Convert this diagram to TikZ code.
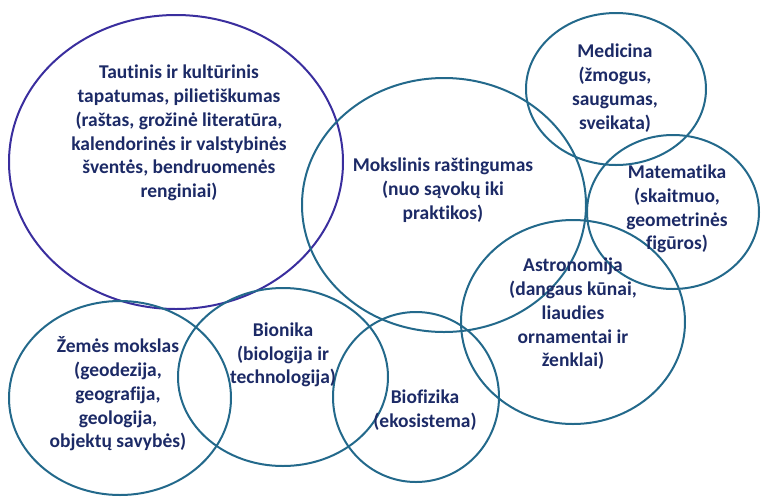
\documentclass[tikz,border=0pt]{standalone}
\usepackage{fontspec}
\setmainfont{Carlito}[Ligatures=NoCommon]
\definecolor{tealline}{HTML}{23698B}
\definecolor{violetline}{HTML}{3A2E9E}
\definecolor{navytext}{HTML}{1C2A66}
\tikzset{
	topic/.style={draw=tealline, line width=2pt},
	label/.style={align=center, text=navytext, font=\bfseries\fontsize{19.5}{23.8}\selectfont, inner sep=0pt}
}
\begin{document}
\begin{tikzpicture}[x=1pt,y=-1pt]
		\useasboundingbox (0,0) rectangle (761,499);
		% centres of the circles
		\coordinate (T) at (176,162);
		\coordinate (M) at (444,205);
		\coordinate (Med) at (616,89);
		\coordinate (Mat) at (673,212);
		\coordinate (A) at (573,322);
		\coordinate (Z) at (120,398);
		\coordinate (Bn) at (283,377);
		\coordinate (Bf) at (416,397);
		\draw [draw=violetline, line width=2pt] (T) ellipse [x radius=167, y radius=147];
		\draw [topic] (M) ellipse [x radius=142, y radius=127];
		\draw [topic] (Med) ellipse [x radius=90, y radius=76];
		\draw [topic] (Mat) ellipse [x radius=86, y radius=77];
		\draw [topic] (A) ellipse [x radius=112, y radius=102];
		\draw [topic] (Z) ellipse [x radius=111, y radius=97];
		\draw [topic] (Bn) ellipse [x radius=105, y radius=89];
		\draw [topic] (Bf) ellipse [x radius=83, y radius=85];
		\node [label] (tautinis) at (179,133) {Tautinis ir kultūrinis\\tapatumas, pilietiškumas\\(raštas, grožinė literatūra,\\kalendorinės ir valstybinės\\šventės, bendruomenės\\renginiai)};
		\node [label] (mokslinis) at (443,190) {Mokslinis raštingumas\\(nuo sąvokų iki\\praktikos)};
		\node [label] (medicina) at (615,88) {Medicina\\(žmogus,\\saugumas,\\sveikata)};
		\node [label] (matematika) at (677,209) {Matematika\\(skaitmuo,\\geometrinės\\figūros)};
		\node [label] (astronomija) at (573,314) {Astronomija\\(dangaus kūnai,\\liaudies\\ornamentai ir\\ženklai)};
		\node [label] (zemes) at (118,394) {Žemės mokslas\\(geodezija,\\geografija,\\geologija,\\objektų savybės)};
		\node [label] (bionika) at (283,355) {Bionika\\(biologija ir\\technologija)};
		\node [label] (biofizika) at (425,410) {Biofizika\\(ekosistema)};
\end{tikzpicture}
\end{document}
